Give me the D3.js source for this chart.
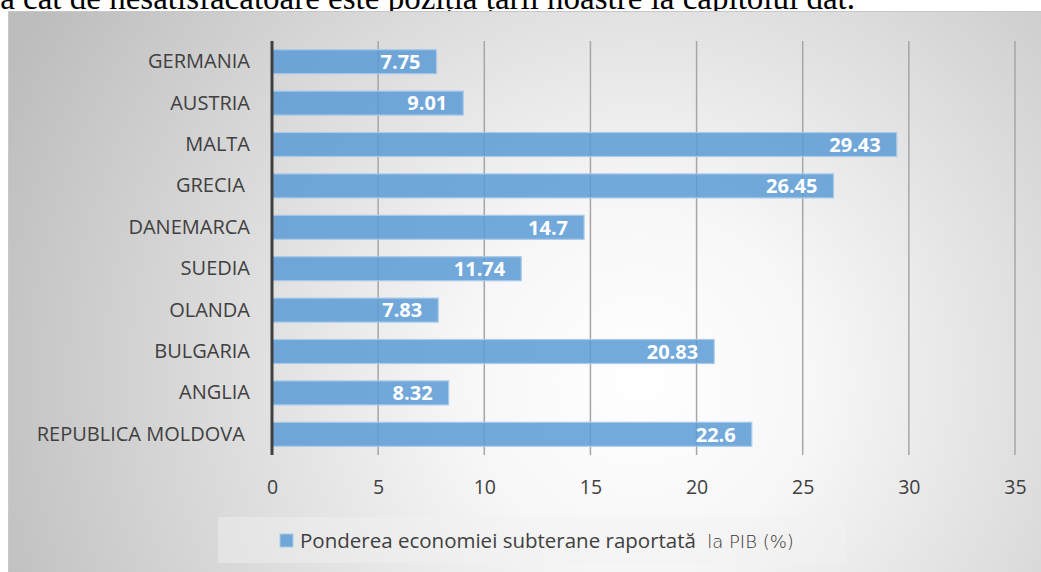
<!DOCTYPE html>
<html>
<head>
<meta charset="utf-8">
<script src="https://cdn.jsdelivr.net/npm/d3@7"></script>
<style>
  body { margin: 0; background: #fff; overflow: hidden; }
  svg { display: block; }
</style>
</head>
<body>
<div id="graph"></div>
<script>
const countries = ["GERMANIA", "AUSTRIA", "MALTA", "GRECIA ", "DANEMARCA", "SUEDIA", "OLANDA", "BULGARIA", "ANGLIA", "REPUBLICA MOLDOVA "];
const values = [7.75, 9.01, 29.43, 26.45, 14.7, 11.74, 7.83, 20.83, 8.32, 22.6];
const ticks = [0, 5, 10, 15, 20, 25, 30, 35];
const legendMain = "Ponderea economiei subterane raportată ";
const legendTail = "la PIB (%)";
const topLine = "a cât de nesatisfăcătoare este poziția țării noastre la capitolul dat.";

const width = 1041;
const height = 572;
const margin = { left: 272, right: 26, top: 41, bottom: 117 };
const textColor = "#404040";
const barFill = "#5b9bd5";
const font = "'Open Sans', 'Noto Sans', sans-serif";

let svg = d3.select('#graph')
  .append('svg')
  .attr('width', width)
  .attr('height', height);

// background gradient
let defs = svg.append('defs');
let grad = defs.append('radialGradient')
  .attr('id', 'bg')
  .attr('gradientUnits', 'userSpaceOnUse')
  .attr('cx', 640).attr('cy', 380).attr('r', 700);
grad.append('stop').attr('offset', '0%').attr('stop-color', '#ffffff');
grad.append('stop').attr('offset', '25%').attr('stop-color', '#f7f7f7');
grad.append('stop').attr('offset', '100%').attr('stop-color', '#bdbdbd');

// line of text above the chart, cut off by the top edge
svg.append('text')
  .attr('x', 855)
  .attr('y', 9)
  .attr('text-anchor', 'end')
  .style('font-family', "'Liberation Serif', 'Times New Roman', serif")
  .style('font-size', '33px')
  .attr('fill', '#000')
  .text(topLine);

svg.append('rect')
  .attr('x', 8.5).attr('y', 11.5)
  .attr('width', width).attr('height', height)
  .attr('fill', 'url(#bg)')
  .attr('stroke', '#c8c8c8')
  .attr('stroke-width', 1);

let xScale = d3.scaleLinear()
  .domain([0, 35])
  .range([margin.left, width - margin.right]);

let yScale = d3.scaleBand()
  .domain(countries)
  .range([margin.top, height - margin.bottom])
  .paddingInner(0.42)
  .paddingOuter(0.21);

let chart = svg.append('g').attr('class', 'chart');

// grid
chart.append('g').attr('class', 'grid')
  .selectAll('line').data(ticks.slice(1)).enter()
  .append('line')
  .attr('x1', d => xScale(d)).attr('x2', d => xScale(d))
  .attr('y1', margin.top).attr('y2', height - margin.bottom)
  .attr('stroke', '#a6a6a6')
  .attr('stroke-width', 1.5);

// x axis labels
let xAxis = d3.axisBottom(xScale)
  .tickValues(ticks)
  .tickSize(0)
  .tickPadding(25);
let xg = chart.append('g')
  .attr('transform', `translate(0, ${height - margin.bottom})`)
  .call(xAxis);
xg.select('.domain').remove();
xg.selectAll('text')
  .style('font-family', font)
  .style('font-size', '19.5px')
  .attr('fill', textColor);

// bars
chart.append('g').attr('class', 'bars')
  .selectAll('rect').data(countries).enter()
  .append('rect')
  .attr('x', xScale(0))
  .attr('y', d => yScale(d))
  .attr('width', (d, i) => xScale(values[i]) - xScale(0))
  .attr('height', yScale.bandwidth())
  .attr('fill', barFill)
  .attr('fill-opacity', 0.85)
  .attr('stroke', '#a9cbea')
  .attr('stroke-width', 1.2);

// bar labels
chart.append('g').attr('class', 'bar-labels')
  .selectAll('text').data(countries).enter()
  .append('text')
  .attr('x', (d, i) => xScale(values[i]) - 16)
  .attr('y', d => yScale(d) + yScale.bandwidth() / 2)
  .attr('dy', '0.36em')
  .attr('text-anchor', 'end')
  .style('font-family', font)
  .style('font-size', '20px')
  .style('font-weight', 'bold')
  .attr('fill', '#fff')
  .text((d, i) => values[i]);

// y axis
let yAxis = d3.axisLeft(yScale)
  .tickSize(0)
  .tickPadding(22);
let yg = chart.append('g')
  .attr('transform', `translate(${margin.left}, 0)`)
  .call(yAxis);
yg.select('.domain').remove();
yg.selectAll('text')
  .style('font-family', font)
  .style('font-size', '20px')
  .style('white-space', 'pre')
  .attr('fill', textColor);

chart.append('line')
  .attr('x1', xScale(0)).attr('x2', xScale(0))
  .attr('y1', margin.top).attr('y2', height - margin.bottom)
  .attr('stroke', '#404040')
  .attr('stroke-width', 3);

// legend
let legend = svg.append('g').attr('class', 'legend');
legend.append('rect')
  .attr('x', 218).attr('y', 517)
  .attr('width', 628).attr('height', 46)
  .attr('fill', '#f2f2f2')
  .attr('fill-opacity', 0.45);
legend.append('rect')
  .attr('x', 280).attr('y', 534)
  .attr('width', 13).attr('height', 13)
  .attr('fill', barFill)
  .attr('fill-opacity', 0.85)
  .attr('stroke', '#a9cbea');
let lt = legend.append('text')
  .attr('x', 300)
  .attr('y', 548)
  .style('font-family', font)
  .style('font-size', '20.5px')
  .style('white-space', 'pre')
  .attr('fill', textColor);
lt.append('tspan').text(legendMain);
lt.append('tspan')
  .attr('dx', 6)
  .attr('fill', '#333')
  .style('font-family', "'DejaVu Sans', sans-serif")
  .style('font-size', '18px')
  .style('font-weight', '300')
  .text(legendTail);
</script>
</body>
</html>
